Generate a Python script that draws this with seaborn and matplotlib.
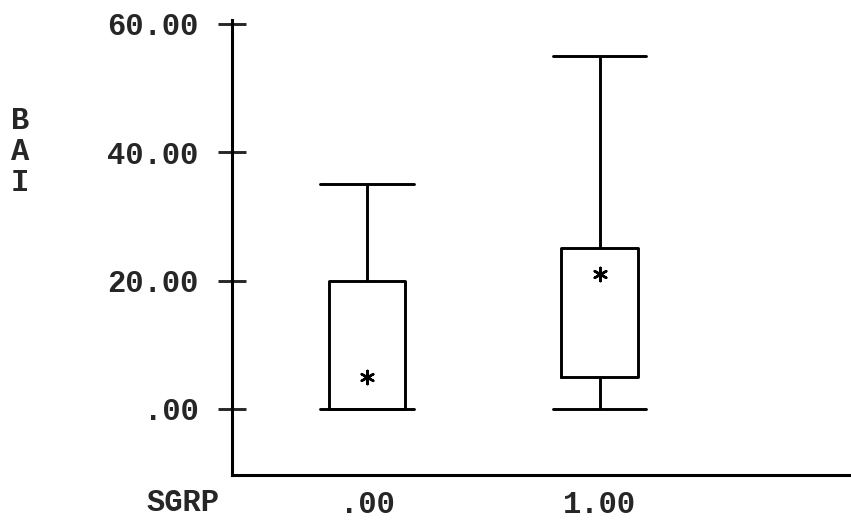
import numpy as np
import pandas as pd
import matplotlib
matplotlib.use("Agg")
import matplotlib.pyplot as plt
import seaborn as sns

# Five-number summaries
groups = [".00", "1.00"]
bai_min = [0, 0]
bai_q1 = [0, 5]
bai_median = [5, 21]
bai_q3 = [20, 25]
bai_max = [35, 55]

y_ticks = [0, 20, 40, 60]
y_tick_labels = [".00", "20.00", "40.00", "60.00"]

# Build a tiny long-form table whose quartiles equal the summaries
rows = []
for g, lo, q1, med, q3, hi in zip(groups, bai_min, bai_q1, bai_median, bai_q3, bai_max):
    for v in (lo, q1, med, q3, hi):
        rows.append({"SGRP": g, "BAI": v})
df = pd.DataFrame(rows)
med_df = pd.DataFrame({"pos": np.arange(len(groups)), "BAI": bai_median})

sns.set_style("white")
plt.rcParams["font.family"] = ["Liberation Mono", "DejaVu Sans Mono"]
plt.rcParams["font.weight"] = "bold"

fig = plt.figure(figsize=(8.51, 5.23), dpi=100)
ax = fig.add_axes([232 / 851, 48 / 523, 1 - 232 / 851, (475 - 20) / 523])

sns.boxplot(data=df, x="SGRP", y="BAI", order=groups, whis=(0, 100),
            width=0.33, fill=False, color="black", linewidth=2.1,
            medianprops={"visible": False}, capwidths=0.4, ax=ax)
sns.scatterplot(data=med_df, x="pos", y="BAI", marker=(6, 2, 0), s=90,
                color="black", linewidth=1.8, legend=False, ax=ax)

ax.set_xlim(-0.58, 2.08)
ax.set_ylim(-10.3, 60.6)
ax.set_yticks(y_ticks, y_tick_labels)
ax.set_xticks(range(len(groups)), groups)
ax.set_xlabel("")
ax.set_ylabel("")
ax.tick_params(axis="y", direction="inout", length=20, width=2.1, pad=14,
               labelsize=22, left=True)
ax.tick_params(axis="x", length=0, pad=11, labelsize=22)
for side in ["top", "right"]:
    ax.spines[side].set_visible(False)
for side in ["left", "bottom"]:
    ax.spines[side].set_linewidth(2.2)
    ax.spines[side].set_color("black")

fig.text(183 / 851, 1 - 503 / 523, "SGRP", ha="center", va="center", fontsize=22)
fig.text(20 / 851, 1 - 152 / 523, "B\nA\nI", ha="center", va="center",
         fontsize=22, linespacing=1.05)

plt.savefig("out.png", dpi=100)
